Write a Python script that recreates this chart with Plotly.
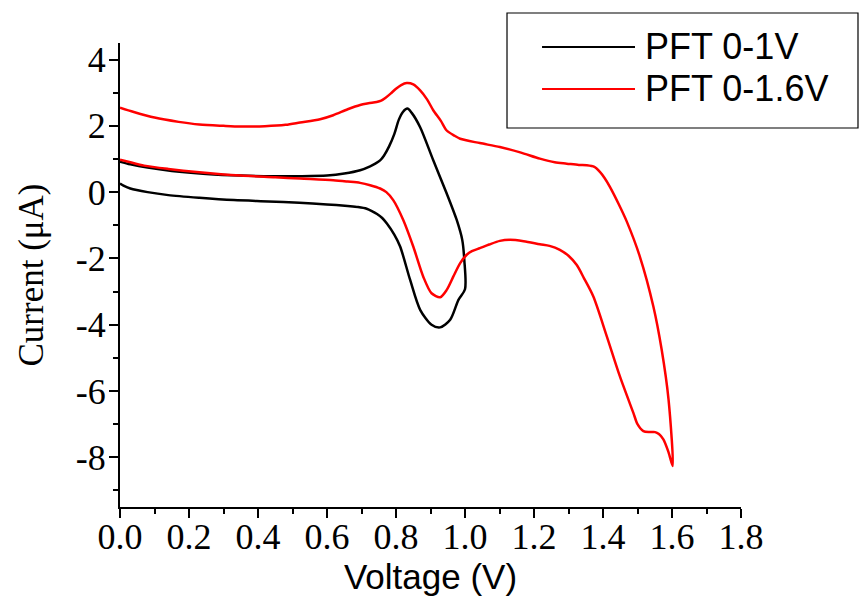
import plotly.graph_objects as go

# Cyclic voltammograms of the PFT film for two potential windows.
# Each sweep runs out along one branch and back along the other.

# PFT 0-1V: forward (lower) branch, then return (upper) branch
v_1v = [0.0, 0.01, 0.03, 0.08, 0.14, 0.23, 0.33, 0.43, 0.52, 0.60, 0.66, 0.69,
        0.715, 0.73, 0.745, 0.76, 0.773, 0.795, 0.812, 0.841, 0.870, 0.903, 0.928,
        0.957, 0.981, 1.0,
        0.998, 0.992, 0.976, 0.947, 0.908, 0.870, 0.845, 0.833, 0.820, 0.808,
        0.795, 0.78, 0.765, 0.754, 0.74, 0.725, 0.696, 0.65, 0.60, 0.522, 0.45,
        0.35, 0.25, 0.15, 0.08, 0.03, 0.0]
i_1v = [0.26, 0.20, 0.11, 0.0, -0.09, -0.17, -0.24, -0.28, -0.32, -0.37, -0.42, -0.45,
        -0.50, -0.57, -0.66, -0.78, -0.94, -1.28, -1.64, -2.65, -3.55, -4.00, -4.08,
        -3.85, -3.25, -2.93,
        -2.05, -1.44, -0.84, -0.04, 0.96, 1.96, 2.40, 2.52, 2.42, 2.18,
        1.75, 1.38, 1.10, 0.96, 0.86, 0.78, 0.66, 0.56, 0.50, 0.48, 0.48,
        0.50, 0.55, 0.64, 0.74, 0.84, 0.92]

# PFT 0-1.6V: upper branch out to 1.6 V, then lower branch back to 0 V
v_16v = [0.0, 0.04, 0.10, 0.17, 0.23, 0.30, 0.35, 0.42, 0.48, 0.522, 0.58, 0.618,
         0.66, 0.696, 0.72, 0.744, 0.757, 0.77, 0.785, 0.80, 0.815, 0.831, 0.85,
         0.870, 0.89, 0.908, 0.93, 0.947, 0.97, 0.986, 1.043, 1.101, 1.16, 1.217,
         1.26, 1.295, 1.33, 1.353, 1.375, 1.391, 1.405, 1.420, 1.445, 1.469,
         1.507, 1.546, 1.570, 1.590, 1.602,
         1.59, 1.575, 1.562, 1.551, 1.535, 1.517, 1.50, 1.488, 1.449, 1.411, 1.372,
         1.345, 1.324, 1.30, 1.275, 1.245, 1.217, 1.17, 1.13, 1.101, 1.07, 1.043,
         1.02, 1.005, 0.986, 0.966, 0.947, 0.928, 0.903, 0.879, 0.850, 0.821,
         0.792, 0.772, 0.754, 0.725, 0.696, 0.66, 0.618, 0.522, 0.45, 0.35, 0.23,
         0.14, 0.07, 0.03, 0.0]
i_16v = [2.55, 2.42, 2.25, 2.12, 2.04, 2.00, 1.98, 1.99, 2.03, 2.10, 2.20, 2.32,
         2.50, 2.63, 2.68, 2.72, 2.76, 2.85, 2.98, 3.12, 3.23, 3.29, 3.25,
         3.07, 2.80, 2.47, 2.15, 1.86, 1.70, 1.61, 1.48, 1.36, 1.20, 1.01,
         0.90, 0.86, 0.82, 0.81, 0.76, 0.61, 0.42, 0.16, -0.35, -0.89,
         -1.95, -3.45, -4.75, -6.26, -8.26,
         -7.85, -7.46, -7.30, -7.24, -7.24, -7.21, -7.00, -6.66, -5.56, -4.35, -3.15,
         -2.60, -2.20, -1.92, -1.74, -1.62, -1.57, -1.48, -1.44, -1.47, -1.58, -1.69,
         -1.78, -1.89, -2.14, -2.55, -2.95, -3.17, -3.05, -2.55, -1.64, -0.84,
         -0.24, 0.00, 0.11, 0.21, 0.28, 0.32, 0.36, 0.41, 0.45, 0.50, 0.60,
         0.70, 0.80, 0.90, 0.98]

series_names = ["PFT 0-1V", "PFT 0-1.6V"]
series_colors = ["#000000", "#ff0000"]

x_ticks = [0.0, 0.2, 0.4, 0.6, 0.8, 1.0, 1.2, 1.4, 1.6, 1.8]
x_ticktext = ["0.0", "0.2", "0.4", "0.6", "0.8", "1.0", "1.2", "1.4", "1.6", "1.8"]
x_minor = [0.1, 0.3, 0.5, 0.7, 0.9, 1.1, 1.3, 1.5, 1.7]
y_ticks = [-8, -6, -4, -2, 0, 2, 4]
y_ticktext = ["-8", "-6", "-4", "-2", "0", "2", "4"]
y_minor = [-9, -7, -5, -3, -1, 1, 3]

fig = go.Figure()
for xs, ys, name, color in [(v_1v, i_1v, series_names[0], series_colors[0]),
                            (v_16v, i_16v, series_names[1], series_colors[1])]:
    fig.add_trace(go.Scatter(
        x=xs, y=ys, mode="lines", name=name, showlegend=False,
        line=dict(color=color, width=2.5, shape="spline", smoothing=0.8),
    ))

serif = "Liberation Serif"
sans = "Liberation Sans"

axis_common = dict(
    showline=True, linecolor="black", linewidth=2, mirror=False,
    showgrid=False, zeroline=False,
    ticks="outside", ticklen=9, tickwidth=2, tickcolor="black",
    tickfont=dict(family=serif, size=36, color="black"),
    tickmode="array",
)

fig.update_xaxes(
    range=[0, 1.8], tickvals=x_ticks, ticktext=x_ticktext, ticklabelstandoff=-12,
    minor=dict(tickmode="array", tickvals=x_minor, ticks="outside",
               ticklen=5, tickwidth=2, tickcolor="black", showgrid=False),
    title=dict(text="Voltage (V)", font=dict(family=sans, size=35, color="black"),
               standoff=2),
    **axis_common,
)
fig.update_yaxes(
    range=[-9.5, 4.5], tickvals=y_ticks, ticktext=y_ticktext, ticklabelstandoff=-4,
    minor=dict(tickmode="array", tickvals=y_minor, ticks="outside",
               ticklen=5, tickwidth=2, tickcolor="black", showgrid=False),
    title=dict(text="Current (μA)", font=dict(family=serif, size=35, color="black"),
               standoff=22),
    **axis_common,
)

# Legend box drawn in paper coordinates
legend_box = dict(x0=0.6232, x1=1.1884, y0=0.8168, y1=1.0647)
legend_rows_y = [0.9914, 0.9009]
sample_x = [0.6796, 0.8293]
label_x = 0.8422

fig.add_shape(type="rect", xref="paper", yref="paper",
              line=dict(color="black", width=1.2), fillcolor="white", **legend_box)
for name, color, ry in zip(series_names, series_colors, legend_rows_y):
    fig.add_shape(type="line", xref="paper", yref="paper",
                  x0=sample_x[0], x1=sample_x[1], y0=ry, y1=ry,
                  line=dict(color=color, width=2))
    fig.add_annotation(xref="paper", yref="paper", x=label_x, y=ry,
                       xanchor="left", yanchor="middle", showarrow=False,
                       text=name, font=dict(family=sans, size=36, color="black"))

fig.update_layout(
    width=860, height=598,
    margin=dict(l=120, r=119, t=43, b=91, autoexpand=False),
    paper_bgcolor="white", plot_bgcolor="white",
)

fig.write_html("out.html")
